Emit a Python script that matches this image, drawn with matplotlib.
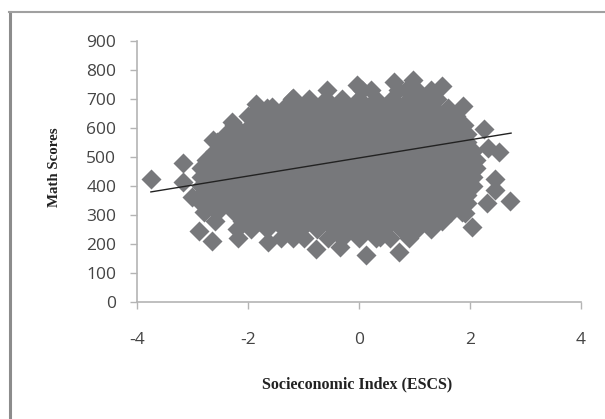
import matplotlib
matplotlib.use('Agg')
import matplotlib.pyplot as plt
from matplotlib.lines import Line2D

plt.rcParams['axes.unicode_minus'] = False

# outlying and edge students
edge_x = [-3.75, -3.17, -3.17, -3.01, -2.88, -2.65, -2.18, -1.64, -1.19, -2.63, -2.29,
          -1.86, -1.57, -1.19, -0.58, -0.04, 0.22, 0.63, 0.97, 1.5, 1.87,
          2.25, 2.33, 2.52, 2.45, 2.45, 2.72, 2.3, 2.03, 1.91,
          0.12, 0.72, -0.34, -0.77, 1.32, 0.38]
edge_y = [423, 479, 413, 361, 244, 210, 220, 206, 220, 558, 620,
          682, 672, 703, 731, 748, 731, 758, 765, 745, 676,
          596, 530, 517, 424, 386, 347, 340, 258, 305,
          161, 171, 190, 182, 282, 223]

# the dense cloud, read row by row: score of the row, then the ESCS values in it
row_y = [730, 700, 670, 640, 610, 580, 550, 520, 490, 460, 430, 400, 370, 340, 310, 280, 250, 220]
row_x = [
    [0.05, 0.7, 0.85, 1.05, 1.3],
    [-1.2, -0.9, -0.6, -0.3, 0.0, 0.3, 0.6, 0.9, 1.2, 1.4],
    [-1.8, -1.65, -1.35, -1.05, -0.75, -0.45, -0.15, 0.15, 0.45, 0.75, 1.05, 1.35, 1.6],
    [-2.0, -1.8, -1.5, -1.2, -0.9, -0.6, -0.3, 0.0, 0.3, 0.6, 0.9, 1.2, 1.5, 1.75],
    [-2.25, -1.95, -1.65, -1.35, -1.05, -0.75, -0.45, -0.15, 0.15, 0.45, 0.75, 1.05, 1.35, 1.65, 1.9],
    [-2.4, -2.1, -1.8, -1.5, -1.2, -0.9, -0.6, -0.3, 0.0, 0.3, 0.6, 0.9, 1.2, 1.5, 1.8, 1.95],
    [-2.55, -2.25, -1.95, -1.65, -1.35, -1.05, -0.75, -0.45, -0.15, 0.15, 0.45, 0.75, 1.05, 1.35, 1.65, 1.95],
    [-2.6, -2.4, -2.1, -1.8, -1.5, -1.2, -0.9, -0.6, -0.3, 0.0, 0.3, 0.6, 0.9, 1.2, 1.5, 1.8, 2.05],
    [-2.75, -2.55, -2.25, -1.95, -1.65, -1.35, -1.05, -0.75, -0.45, -0.15, 0.15, 0.45, 0.75, 1.05, 1.35, 1.65, 1.95, 2.1],
    [-2.85, -2.7, -2.4, -2.1, -1.8, -1.5, -1.2, -0.9, -0.6, -0.3, 0.0, 0.3, 0.6, 0.9, 1.2, 1.5, 1.8, 2.1],
    [-2.85, -2.55, -2.25, -1.95, -1.65, -1.35, -1.05, -0.75, -0.45, -0.15, 0.15, 0.45, 0.75, 1.05, 1.35, 1.65, 1.95, 2.05],
    [-2.85, -2.7, -2.4, -2.1, -1.8, -1.5, -1.2, -0.9, -0.6, -0.3, 0.0, 0.3, 0.6, 0.9, 1.2, 1.5, 1.8, 2.05],
    [-2.85, -2.55, -2.25, -1.95, -1.65, -1.35, -1.05, -0.75, -0.45, -0.15, 0.15, 0.45, 0.75, 1.05, 1.35, 1.65, 1.95],
    [-2.85, -2.7, -2.4, -2.1, -1.8, -1.5, -1.2, -0.9, -0.6, -0.3, 0.0, 0.3, 0.6, 0.9, 1.2, 1.5, 1.8, 1.95],
    [-2.8, -2.55, -2.25, -1.95, -1.65, -1.35, -1.05, -0.75, -0.45, -0.15, 0.15, 0.45, 0.75, 1.05, 1.35, 1.65, 1.85],
    [-2.6, -2.1, -1.8, -1.5, -1.2, -0.9, -0.6, -0.3, 0.0, 0.3, 0.6, 0.9, 1.2, 1.5],
    [-2.2, -1.95, -1.65, -1.35, -1.05, -0.75, -0.45, -0.15, 0.15, 0.45, 0.75, 1.05, 1.3],
    [-1.4, -1.0, -0.55, -0.3, 0.0, 0.3, 0.55, 0.9],
]

# fitted line ends
line_x = [-3.75, 2.74]
line_y = [379, 582]

x_ticks = [-4, -2, 0, 2, 4]
y_ticks = [0, 100, 200, 300, 400, 500, 600, 700, 800, 900]

cloud_x = []
cloud_y = []
for i in range(len(row_y)):
    for v in row_x[i]:
        cloud_x.append(v)
        cloud_y.append(row_y[i])

fig = plt.figure(figsize=(6.05, 4.19), dpi=100)
ax = fig.add_axes([137 / 605, 1 - 301.7 / 419, (581 - 137) / 605, (301.7 - 41) / 419])

ax.scatter(edge_x + cloud_x, edge_y + cloud_y, marker='D', s=104, c='#77787b', linewidths=0, clip_on=False, zorder=3)
ax.plot(line_x, line_y, color='#222222', lw=1.0, zorder=4)

ax.set_xlim(-4, 4)
ax.set_ylim(0, 900)
ax.set_xticks(x_ticks)
ax.set_yticks(y_ticks)
for side in ['top', 'right']:
    ax.spines[side].set_visible(False)
for side in ['left', 'bottom']:
    ax.spines[side].set_color('#b4b4b4')
    ax.spines[side].set_linewidth(1.2)
ax.tick_params(axis='x', length=5, width=1, color='#b4b4b4', pad=17, labelsize=12.5, labelcolor='#444444')
ax.tick_params(axis='y', length=5, width=1, color='#b4b4b4', pad=10, labelsize=12.5, labelcolor='#444444')
for lab in ax.get_xticklabels() + ax.get_yticklabels():
    lab.set_fontfamily('Open Sans')

fig.text(357 / 605, 1 - 384 / 419, 'Socieconomic Index (ESCS)', family='Liberation Serif', weight='bold',
         fontsize=11.5, color='#222222', ha='center', va='center')
fig.text(55 / 605, 1 - 167 / 419, 'Math Scores', family='Liberation Serif', weight='bold',
         fontsize=10.7, color='#222222', ha='center', va='center', rotation=90)

# frame of the pasted chart, only top and left show
fig.add_artist(Line2D([9.5 / 605, 9.5 / 605], [0, 1 - 12 / 419], color='#8c8c8c', lw=2.2))
fig.add_artist(Line2D([8.5 / 605, 1], [1 - 12 / 419, 1 - 12 / 419], color='#a0a0a0', lw=1.5))

fig.savefig('out.png', dpi=100)
